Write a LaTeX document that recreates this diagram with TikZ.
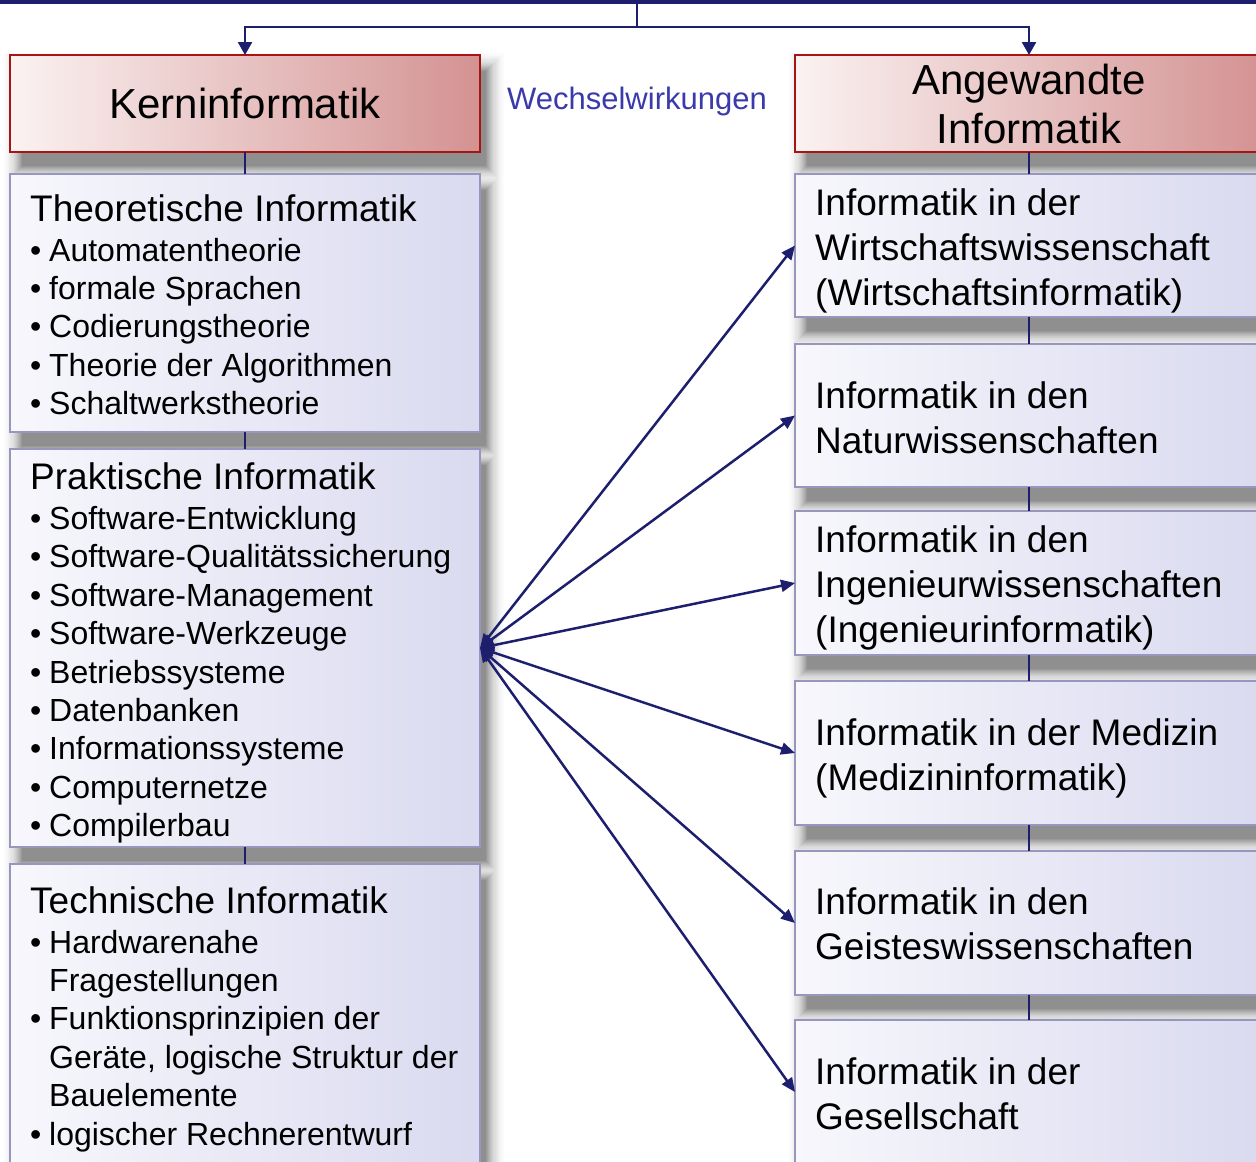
\documentclass[tikz,border=0pt]{standalone}
\usepackage{fontspec}
\setmainfont{Liberation Sans}
\usetikzlibrary{arrows.meta,calc}
\definecolor{navy}{RGB}{30,30,110}
\definecolor{wblue}{RGB}{58,58,172}
\definecolor{kernL}{RGB}{251,242,242}
\definecolor{kernR}{RGB}{212,146,146}
\definecolor{redline}{RGB}{168,20,20}
\definecolor{lavL}{RGB}{247,247,252}
\definecolor{lavR}{RGB}{218,218,240}
\definecolor{lavline}{RGB}{150,150,190}
\pgfdeclarelayer{back}
\pgfdeclarelayer{background}
\pgfsetlayers{back,background,main}
\begin{document}
\begin{tikzpicture}[x=1pt,y=-1pt,
  redbox/.style={draw=redline, line width=2pt, left color=kernL, right color=kernR,
    anchor=north west, outer sep=0pt, inner sep=0pt, font=\fontsize{42}{49}\selectfont, align=center},
  lavbox/.style={draw=lavline, line width=2pt, left color=lavL, right color=lavR,
    anchor=north west, outer sep=0pt, inner sep=0pt},
  head/.style={anchor=base west, inner sep=0pt, font=\fontsize{37}{44}\selectfont},
  bul/.style={anchor=base west, inner sep=0pt, font=\fontsize{32}{38}\selectfont},
  rtxt/.style={anchor=base west, inner sep=0pt, font=\fontsize{37}{44}\selectfont},
  link/.style={navy, line width=1.6pt},
  topar/.style={navy, line width=2.5pt, -{Triangle[length=13pt,width=14pt]}},
  ww/.style={navy, line width=2.5pt, {Triangle[length=14pt,width=12pt]}-{Triangle[length=14pt,width=12pt]}}
]
\useasboundingbox (0,0) rectangle (1256,1162);
\clip (0,0) rectangle (1256,1162);

% boxes
\node[redbox, minimum width=470pt, minimum height=97pt] (kern) at (10,55) {Kerninformatik};
\node[redbox, minimum width=468pt, minimum height=97pt] (angew) at (795,55) {Angewandte\\Informatik};

\node[lavbox, minimum width=470pt, minimum height=258pt] (theo) at (10,174) {};
\node[lavbox, minimum width=470pt, minimum height=398pt] (prak) at (10,449) {};
\node[lavbox, minimum width=470pt, minimum height=320pt] (tech) at (10,864) {};

\node[lavbox, minimum width=468pt, minimum height=143pt] (wirt) at (795,174) {};
\node[lavbox, minimum width=468pt, minimum height=143pt] (natur) at (795,344) {};
\node[lavbox, minimum width=468pt, minimum height=144pt] (ing) at (795,511) {};
\node[lavbox, minimum width=468pt, minimum height=144pt] (med) at (795,681) {};
\node[lavbox, minimum width=468pt, minimum height=144pt] (geist) at (795,851) {};
\node[lavbox, minimum width=468pt, minimum height=144pt] (ges) at (795,1020) {};

% background and soft shadows (opaque grey layers, light to dark)
\begin{pgfonlayer}{back}
  \fill[white] (0,0) rectangle (1256,1162);
\end{pgfonlayer}
\begin{pgfonlayer}{background}
  \clip (0,0) rectangle (1256,1162);
  \foreach \k in {0,...,19}{
    \pgfmathsetmacro\pct{0.11*(\k+1)*(\k+1)}
    \foreach \b in {kern,angew,theo,prak,tech,wirt,natur,ing,med,geist,ges}{
      \fill[black!\pct]
        ($(\b.north west)+(-8+\k*1.05,-4+\k*1.05)$) rectangle
        ($(\b.south east)+(26-\k*1.05,34-\k*1.05)$);
    }}
\end{pgfonlayer}

% top structure
\coordinate (tL) at (0,1.5);
\coordinate (tR) at (1256,1.5);
\coordinate (tM) at (637,1.5);
\coordinate (jn) at (637,27);
\draw[navy, line width=4pt] (tL) -- (tR);
\draw[navy, line width=2.5pt] (tM) -- (jn);
\draw[topar] (jn) -| (kern.north);
\draw[topar] (jn) -| (angew.north);

\node[font=\fontsize{31}{36}\selectfont, text=wblue, anchor=base, inner sep=0pt] (wwl) at (637,109) {Wechselwirkungen};

% vertical links
\draw[link] (kern.south) -- (theo.north);
\draw[link] (theo.south) -- (prak.north);
\draw[link] (prak.south) -- (tech.north);
\draw[link] (angew.south) -- (wirt.north);
\draw[link] (wirt.south) -- (natur.north);
\draw[link] (natur.south) -- (ing.north);
\draw[link] (ing.south) -- (med.north);
\draw[link] (med.south) -- (geist.north);
\draw[link] (geist.south) -- (ges.north);

% left texts
\node[head] (th0) at (30,221) {Theoretische Informatik};
\node[bul] (th1) at (30,261) {\makebox[19pt][l]{•}Automatentheorie};
\node[bul] (th2) at (30,299.4) {\makebox[19pt][l]{•}formale Sprachen};
\node[bul] (th3) at (30,337.8) {\makebox[19pt][l]{•}Codierungstheorie};
\node[bul] (th4) at (30,376.2) {\makebox[19pt][l]{•}Theorie der Algorithmen};
\node[bul] (th5) at (30,414.6) {\makebox[19pt][l]{•}Schaltwerkstheorie};

\node[head] (pr0) at (30,489) {Praktische Informatik};
\node[bul] (pr1) at (30,529.5) {\makebox[19pt][l]{•}Software-Entwicklung};
\node[bul] (pr2) at (30,567.9) {\makebox[19pt][l]{•}Software-Qualitätssicherung};
\node[bul] (pr3) at (30,606.3) {\makebox[19pt][l]{•}Software-Management};
\node[bul] (pr4) at (30,644.7) {\makebox[19pt][l]{•}Software-Werkzeuge};
\node[bul] (pr5) at (30,683.1) {\makebox[19pt][l]{•}Betriebssysteme};
\node[bul] (pr6) at (30,721.5) {\makebox[19pt][l]{•}Datenbanken};
\node[bul] (pr7) at (30,759.9) {\makebox[19pt][l]{•}Informationssysteme};
\node[bul] (pr8) at (30,798.3) {\makebox[19pt][l]{•}Computernetze};
\node[bul] (pr9) at (30,836.7) {\makebox[19pt][l]{•}Compilerbau};

\node[head] (te0) at (30,913) {Technische Informatik};
\node[bul] (te1) at (30,953) {\makebox[19pt][l]{•}Hardwarenahe};
\node[bul] (te2) at (49,991.4) {Fragestellungen};
\node[bul] (te3) at (30,1029.8) {\makebox[19pt][l]{•}Funktionsprinzipien der};
\node[bul] (te4) at (49,1068.2) {Geräte, logische Struktur der};
\node[bul] (te5) at (49,1106.6) {Bauelemente};
\node[bul] (te6) at (30,1145) {\makebox[19pt][l]{•}logischer Rechnerentwurf};

% right texts
\node[rtxt] (wi1) at (815,215) {Informatik in der};
\node[rtxt] (wi2) at (815,260) {Wirtschaftswissenschaft};
\node[rtxt] (wi3) at (815,305) {(Wirtschaftsinformatik)};
\node[rtxt] (na1) at (815,408) {Informatik in den};
\node[rtxt] (na2) at (815,453) {Naturwissenschaften};
\node[rtxt] (in1) at (815,552) {Informatik in den};
\node[rtxt] (in2) at (815,597) {Ingenieurwissenschaften};
\node[rtxt] (in3) at (815,642) {(Ingenieurinformatik)};
\node[rtxt] (me1) at (815,745) {Informatik in der Medizin};
\node[rtxt] (me2) at (815,790) {(Medizininformatik)};
\node[rtxt] (ge1) at (815,914) {Informatik in den};
\node[rtxt] (ge2) at (815,959) {Geisteswissenschaften};
\node[rtxt] (gs1) at (815,1084) {Informatik in der};
\node[rtxt] (gs2) at (815,1129) {Gesellschaft};

% interaction arrows
\draw[ww] (prak.east) -- (wirt.west);
\draw[ww] (prak.east) -- (natur.west);
\draw[ww] (prak.east) -- (ing.west);
\draw[ww] (prak.east) -- (med.west);
\draw[ww] (prak.east) -- (geist.west);
\draw[ww] (prak.east) -- (ges.west);
\end{tikzpicture}
\end{document}
